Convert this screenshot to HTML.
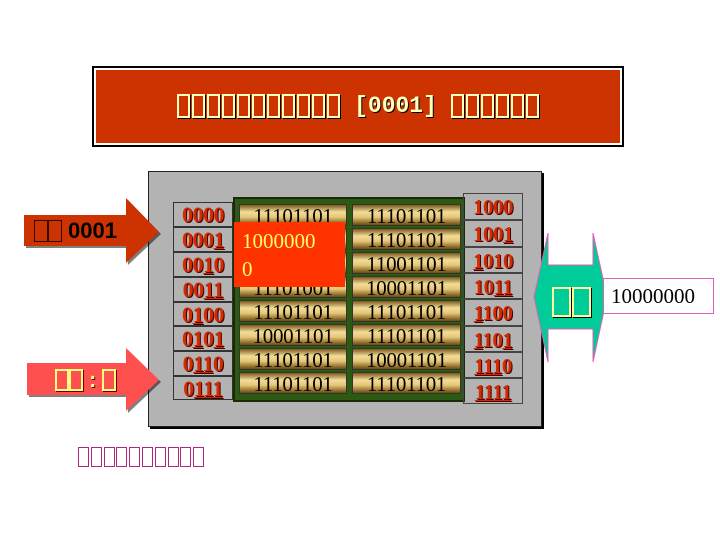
<!DOCTYPE html>
<html><head><meta charset="utf-8"><style>
*{margin:0;padding:0;box-sizing:border-box}
body{width:720px;height:540px;background:#fff;position:relative;overflow:hidden;font-family:"Liberation Serif",serif}
.a{position:absolute}
.t{display:inline-block;width:13px;height:24px;border:2px solid #ffffc0;box-shadow:1px 1px 0 #000;vertical-align:middle;margin-right:2px}
.addr{position:absolute;width:60px;border:1px solid #333;color:#d42a00;font-weight:bold;font-size:22px;text-align:center;text-shadow:1px 1px 0 #400;line-height:23px;letter-spacing:-0.5px}
.cell{position:absolute;height:22px;background:linear-gradient(#7a5a18 0%,#f2dc9a 35%,#e8c878 60%,#6a4a10 100%);border:1px solid #333;color:#000;font-size:21px;text-align:center;line-height:22px;letter-spacing:-0.3px}
.r{position:absolute;left:463px;width:60px;border:1px solid #444;color:#d42a00;font-weight:bold;font-size:21px;text-align:center;text-shadow:1px 1px 0 #400;letter-spacing:-0.5px}
.u{text-decoration:underline;text-decoration-thickness:1px}
</style></head><body>
<div class="a" style="left:92px;top:66px;width:532px;height:81px;border:2px solid #000;background:#fff"></div>
<div class="a" style="left:96px;top:70px;width:524px;height:73px;background:#cc3300;text-align:center;line-height:73px;color:#ffffc0;font-family:'Liberation Mono',monospace;font-weight:bold;font-size:23px;text-shadow:1px 1px 0 #000;white-space:nowrap">
<span style="display:inline-block;vertical-align:middle;font-size:0"><span class="t"></span><span class="t"></span><span class="t"></span><span class="t"></span><span class="t"></span><span class="t"></span><span class="t"></span><span class="t"></span><span class="t"></span><span class="t"></span><span class="t" style="margin-right:0"></span></span><span style="vertical-align:middle"> [0001] </span><span style="display:inline-block;vertical-align:middle;font-size:0"><span class="t"></span><span class="t"></span><span class="t"></span><span class="t"></span><span class="t"></span><span class="t" style="margin-right:0"></span></span>
</div>

<div class="a" style="left:148px;top:171px;width:394px;height:256px;background:#b3b3b3;border:1px solid #222;box-shadow:2px 2px 0 #000"></div>

<div class="addr" style="left:173px;top:202px;height:25px">0000</div>
<div class="addr" style="left:173px;top:227px;height:25px">000<span class="u">1</span></div>
<div class="addr" style="left:173px;top:252px;height:25px">00<span class="u">1</span>0</div>
<div class="addr" style="left:173px;top:277px;height:25px">00<span class="u">11</span></div>
<div class="addr" style="left:173px;top:302px;height:24px">0<span class="u">1</span>00</div>
<div class="addr" style="left:173px;top:326px;height:25px">0<span class="u">1</span>0<span class="u">1</span></div>
<div class="addr" style="left:173px;top:351px;height:25px">0<span class="u">11</span>0</div>
<div class="addr" style="left:173px;top:376px;height:24px">0<span class="u">111</span></div>

<div class="a" style="left:233px;top:197px;width:232px;height:205px;background:#2d5a12;border:2px solid #1a2a08"></div>
<div class="cell" style="left:239px;top:204px;width:108px">11101101</div>
<div class="cell" style="left:239px;top:228px;width:108px">11101101</div>
<div class="cell" style="left:239px;top:252px;width:108px">11101101</div>
<div class="cell" style="left:239px;top:276px;width:108px">11101001</div>
<div class="cell" style="left:239px;top:300px;width:108px">11101101</div>
<div class="cell" style="left:239px;top:324px;width:108px">10001101</div>
<div class="cell" style="left:239px;top:348px;width:108px">11101101</div>
<div class="cell" style="left:239px;top:372px;width:108px">11101101</div>
<div class="cell" style="left:352px;top:204px;width:109px">11101101</div>
<div class="cell" style="left:352px;top:228px;width:109px">11101101</div>
<div class="cell" style="left:352px;top:252px;width:109px">11001101</div>
<div class="cell" style="left:352px;top:276px;width:109px">10001101</div>
<div class="cell" style="left:352px;top:300px;width:109px">11101101</div>
<div class="cell" style="left:352px;top:324px;width:109px">11101101</div>
<div class="cell" style="left:352px;top:348px;width:109px">10001101</div>
<div class="cell" style="left:352px;top:372px;width:109px">11101101</div>

<div class="a" style="left:234px;top:222px;width:111px;height:65px;background:#ff3300;color:#ffff66;font-size:21px;line-height:28px;padding:5px 0 0 8px">1000000<br>0</div>

<div class="r" style="top:193px;height:27px;line-height:27px">1000</div>
<div class="r" style="top:220px;height:27px;line-height:27px">100<span class="u">1</span></div>
<div class="r" style="top:247px;height:26px;line-height:26px"><span class="u">1</span>010</div>
<div class="r" style="top:273px;height:26px;line-height:26px">10<span class="u">11</span></div>
<div class="r" style="top:299px;height:27px;line-height:27px"><span class="u">1</span>100</div>
<div class="r" style="top:326px;height:26px;line-height:26px"><span class="u">1</span>10<span class="u">1</span></div>
<div class="r" style="top:352px;height:26px;line-height:26px"><span class="u">111</span>0</div>
<div class="r" style="top:378px;height:26px;line-height:26px"><span class="u">1111</span></div>

<svg class="a" style="left:0;top:0" width="720" height="540">
<polygon points="26,217 128,217 128,200 161,234 128,265 128,248 26,248" fill="#000" opacity="0.5"/>
<polygon points="24,215 126,215 126,198 159,232 126,263 126,246 24,246" fill="#cc3300"/>
<polygon points="29,365 128,365 128,350 161,382 128,413 128,397 29,397" fill="#000" opacity="0.5"/>
<polygon points="27,363 126,363 126,348 159,380 126,411 126,395 27,395" fill="#ff5050"/>
<polygon points="548,233 548,265 593,265 593,233 607,297 593,362 593,329 548,329 548,362 534,297" fill="#00cc99" stroke="#e060b0" stroke-width="1"/>
</svg>
<div class="a" style="left:34px;top:218px;font-family:'Liberation Sans',sans-serif;font-weight:bold;font-size:22px;line-height:26px;color:#000;white-space:nowrap"><span style="display:inline-block;width:14px;height:22px;border:1.5px solid #300;vertical-align:-4px"></span><span style="display:inline-block;width:14px;height:22px;border:1.5px solid #300;vertical-align:-4px;margin-right:6px"></span>0001</div>
<div class="a" style="left:55px;top:367px;font-family:'Liberation Sans',sans-serif;font-weight:bold;font-size:22px;line-height:26px;color:#ffff80;text-shadow:1px 1px 0 #600;white-space:nowrap"><span style="display:inline-block;width:14px;height:22px;border:2px solid #ffff80;box-shadow:1px 1px 0 #600;vertical-align:-4px"></span><span style="display:inline-block;width:14px;height:22px;border:2px solid #ffff80;box-shadow:1px 1px 0 #600;vertical-align:-4px;margin-right:6px"></span>:<span style="display:inline-block;width:14px;height:22px;border:2px solid #ffff80;box-shadow:1px 1px 0 #600;vertical-align:-4px;margin-left:6px"></span></div>
<div class="a" style="left:552px;top:287px;font-size:0;white-space:nowrap"><span style="display:inline-block;width:19px;height:30px;border:2px solid #ffffa0;box-shadow:1px 1px 0 #000"></span><span style="display:inline-block;width:19px;height:30px;border:2px solid #ffffa0;box-shadow:1px 1px 0 #000;margin-left:1px"></span></div>
<div class="a" style="left:603px;top:278px;width:111px;height:36px;border:1px solid #e060b0;background:#fff;font-size:21px;line-height:34px;padding-left:7px;color:#000">10000000</div>

<div class="a" style="left:78px;top:447px;height:20px;white-space:nowrap;font-size:0">
<span style="display:inline-block;width:11px;height:20px;border:1.5px solid #b0287a;margin-right:1.8px"></span><span style="display:inline-block;width:11px;height:20px;border:1.5px solid #b0287a;margin-right:1.8px"></span><span style="display:inline-block;width:11px;height:20px;border:1.5px solid #b0287a;margin-right:1.8px"></span><span style="display:inline-block;width:11px;height:20px;border:1.5px solid #b0287a;margin-right:1.8px"></span><span style="display:inline-block;width:11px;height:20px;border:1.5px solid #b0287a;margin-right:1.8px"></span><span style="display:inline-block;width:11px;height:20px;border:1.5px solid #b0287a;margin-right:1.8px"></span><span style="display:inline-block;width:11px;height:20px;border:1.5px solid #b0287a;margin-right:1.8px"></span><span style="display:inline-block;width:11px;height:20px;border:1.5px solid #b0287a;margin-right:1.8px"></span><span style="display:inline-block;width:11px;height:20px;border:1.5px solid #b0287a;margin-right:1.8px"></span><span style="display:inline-block;width:11px;height:20px;border:1.5px solid #b0287a"></span>
</div>
</body></html>
